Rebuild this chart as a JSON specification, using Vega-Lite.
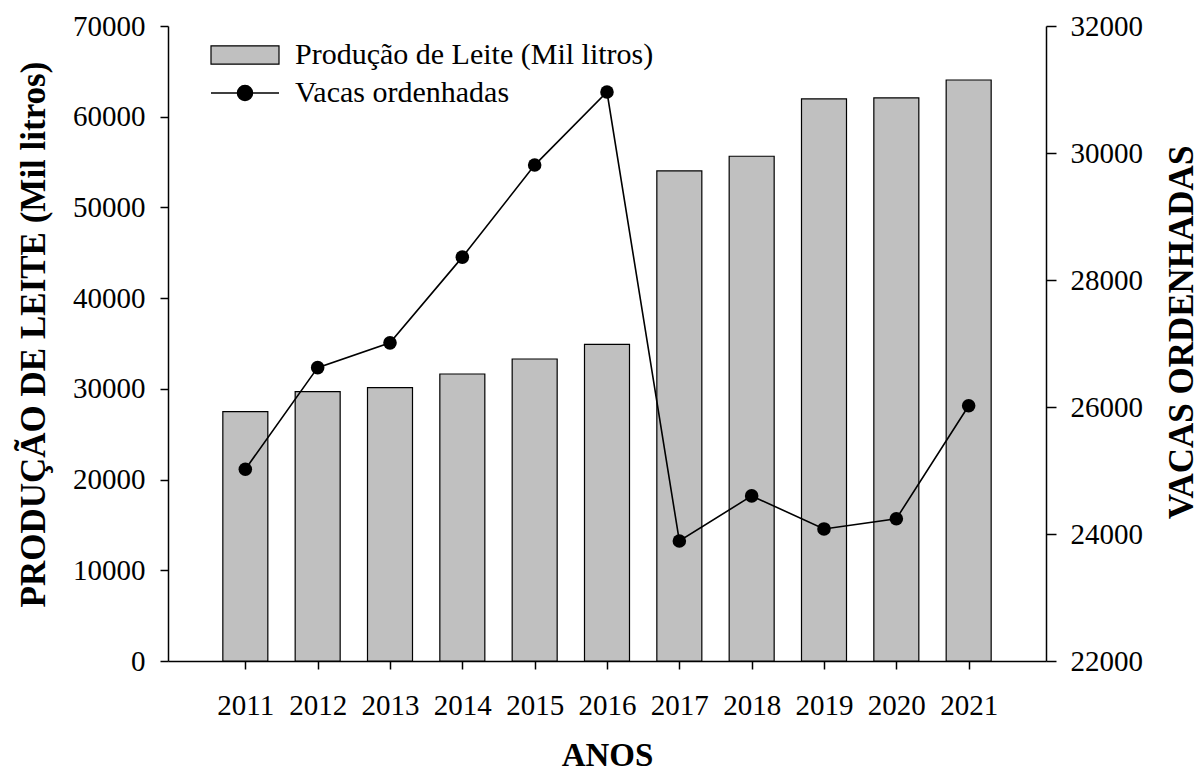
{
  "$schema": "https://vega.github.io/schema/vega-lite/v6.json",
  "width": 878,
  "height": 635,
  "autosize": {"type": "none"},
  "padding": {"left": 168, "top": 26, "right": 154, "bottom": 113},
  "background": "white",
  "config": {
    "view": {"stroke": null},
    "font": "Liberation Serif",
    "axis": {
      "grid": false,
      "domainColor": "black",
      "domainWidth": 1.5,
      "tickColor": "black",
      "tickWidth": 1.5,
      "tickSize": 8,
      "labelFont": "Liberation Serif",
      "labelFontSize": 29,
      "labelColor": "black",
      "titleFont": "Liberation Serif",
      "titleFontSize": 35,
      "titleFontWeight": "bold",
      "titleColor": "black"
    },
    "legend": {
      "labelFont": "Liberation Serif",
      "labelFontSize": 30,
      "labelColor": "black",
      "labelLimit": 0,
      "padding": 0
    }
  },
  "data": {
    "values": [
      {"Ano": 2011, "Producao": 27500, "Vacas": 25020},
      {"Ano": 2012, "Producao": 29700, "Vacas": 26620},
      {"Ano": 2013, "Producao": 30130, "Vacas": 27010},
      {"Ano": 2014, "Producao": 31640, "Vacas": 28360},
      {"Ano": 2015, "Producao": 33290, "Vacas": 29810},
      {"Ano": 2016, "Producao": 34910, "Vacas": 30960},
      {"Ano": 2017, "Producao": 54020, "Vacas": 23890},
      {"Ano": 2018, "Producao": 55640, "Vacas": 24600},
      {"Ano": 2019, "Producao": 61960, "Vacas": 24080},
      {"Ano": 2020, "Producao": 62070, "Vacas": 24240},
      {"Ano": 2021, "Producao": 64050, "Vacas": 26020}
    ]
  },
  "encoding": {
    "x": {
      "field": "Ano",
      "type": "quantitative",
      "scale": {"domain": [2010, 2022], "nice": false, "zero": false},
      "axis": {
        "values": [2011, 2012, 2013, 2014, 2015, 2016, 2017, 2018, 2019, 2020, 2021],
        "format": "d",
        "title": "ANOS",
        "labelBaseline": "top",
        "labelPadding": 22,
        "titleFontSize": 33,
        "titleY": 104,
        "titleBaseline": "alphabetic"
      }
    }
  },
  "layer": [
    {
      "mark": {"type": "bar", "width": 45, "stroke": "black", "strokeWidth": 1.2},
      "encoding": {
        "y": {
          "field": "Producao",
          "type": "quantitative",
          "scale": {"domain": [0, 70000], "nice": false},
          "axis": {
            "orient": "left",
            "values": [0, 10000, 20000, 30000, 40000, 50000, 60000, 70000],
            "format": "d",
            "labelPadding": 15,
            "title": "PRODUÇÃO DE LEITE (Mil litros)",
            "titleAngle": -90,
            "titleX": -124,
            "titleY": 308,
            "titleAlign": "center",
            "titleBaseline": "alphabetic"
          }
        },
        "fill": {
          "datum": "Produção de Leite (Mil litros)",
          "type": "nominal",
          "scale": {"range": ["#c0c0c0"]},
          "legend": {
            "title": null,
            "orient": "none",
            "legendX": 42,
            "legendY": -6,
            "symbolType": "M-1,-0.27H1V0.27H-1Z",
            "symbolSize": 4624,
            "symbolStrokeColor": "black",
            "symbolStrokeWidth": 1.2,
            "labelOffset": 15
          }
        }
      }
    },
    {
      "encoding": {
        "y": {
          "field": "Vacas",
          "type": "quantitative",
          "scale": {"domain": [22000, 32000], "nice": false, "zero": false},
          "axis": {
            "orient": "right",
            "values": [22000, 24000, 26000, 28000, 30000, 32000],
            "format": "d",
            "tickSize": 10,
            "labelPadding": 14,
            "title": "VACAS ORDENHADAS",
            "titleAngle": -90,
            "titleX": 146,
            "titleY": 306,
            "titleAlign": "center",
            "titleBaseline": "alphabetic"
          }
        }
      },
      "layer": [
        {
          "mark": {"type": "line", "strokeWidth": 1.6},
          "encoding": {
            "stroke": {
              "datum": "Vacas ordenhadas",
              "type": "nominal",
              "scale": {"range": ["black"]},
              "legend": {
                "title": null,
                "orient": "none",
                "legendX": 42,
                "legendY": 32,
                "symbolType": "M-1,0H1M0.22,0A0.22,0.22,0,1,1,-0.22,0A0.22,0.22,0,1,1,0.22,0Z",
                "symbolSize": 4624,
                "symbolFillColor": "black",
                "symbolStrokeWidth": 1.6,
                "labelOffset": 15
              }
            }
          }
        },
        {
          "mark": {"type": "point", "filled": true, "color": "black", "size": 184, "opacity": 1},
          "encoding": {}
        }
      ]
    }
  ],
  "resolve": {"scale": {"y": "independent"}}
}
